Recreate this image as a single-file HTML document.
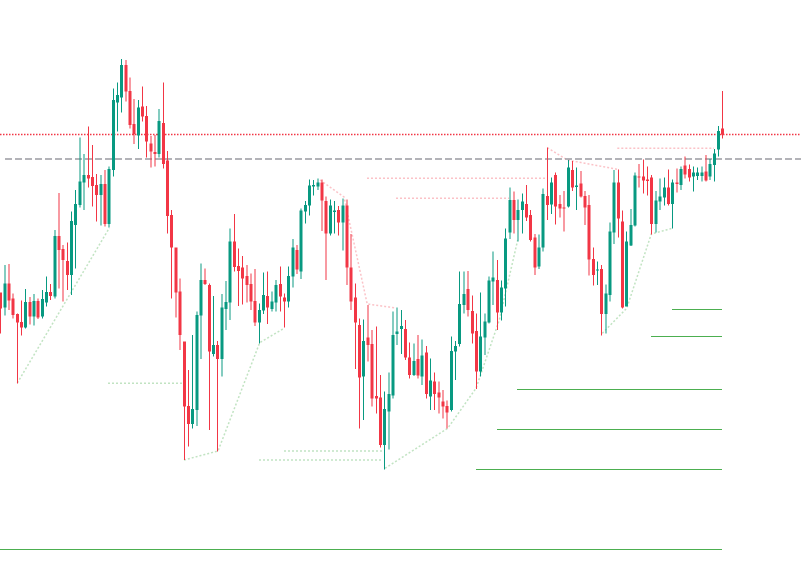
<!DOCTYPE html>
<html><head><meta charset="utf-8"><style>
html,body{margin:0;padding:0;background:#fff;width:801px;height:579px;overflow:hidden}
svg{display:block}
.g{fill:#089981}.r{fill:#f23645}
</style></head><body>
<svg width="801" height="579" viewBox="0 0 801 579" xmlns="http://www.w3.org/2000/svg">
<rect width="801" height="579" fill="#fff"/>
<g fill="none" stroke="#4caf50" stroke-opacity="0.35" stroke-width="1.5" stroke-dasharray="2 2">
<polyline points="17.3,383 109.3,228"/>
<line x1="108" y1="383.3" x2="182" y2="383.3"/>
<polyline points="184,460 218,451 259.7,342.7 284,328.3"/>
<line x1="284" y1="451" x2="383" y2="451"/>
<line x1="259" y1="460" x2="383" y2="460"/>
<polyline points="385,468.3 447.7,428.3 476,388.3 499.3,320 517.7,240"/>
<polyline points="602.3,333.3 626.7,308.3 651.3,234 672.3,228.3"/>
</g>
<g fill="none" stroke="#f23645" stroke-opacity="0.3" stroke-width="1.5" stroke-dasharray="2 2">
<polyline points="320,180 344,197 367.2,304 396,308"/>
<line x1="367" y1="178.3" x2="546" y2="178.3"/>
<line x1="396" y1="198.3" x2="509" y2="198.3"/>
<polyline points="547.3,147.7 567.3,160 617.3,169.3"/>
<line x1="617.3" y1="148.3" x2="714" y2="148.3"/>
</g>
<line x1="0" y1="134.5" x2="801" y2="134.5" stroke="#f23645" stroke-width="1.5" stroke-dasharray="1.5 1.5"/>
<line x1="5" y1="159" x2="801" y2="159" stroke="#9a9aa0" stroke-width="1.5" stroke-dasharray="7 3"/>
<g stroke="#4caf50" stroke-width="1">
<line x1="672" y1="309.5" x2="722" y2="309.5"/>
<line x1="651" y1="336.5" x2="722" y2="336.5"/>
<line x1="517" y1="389.5" x2="722" y2="389.5"/>
<line x1="497" y1="429.5" x2="722" y2="429.5"/>
<line x1="476" y1="469.5" x2="722" y2="469.5"/>
<line x1="0" y1="549.5" x2="722" y2="549.5"/>
</g>
<g shape-rendering="crispEdges">
<g transform="translate(0.6,55) scale(4.174,0.333333)">
<g transform="translate(-0.12,0)">
<rect class="r" x="0" y="712" width=".24" height="123"/>
<rect class="g" x="1" y="630" width=".24" height="152"/>
<rect class="r" x="2" y="627" width=".24" height="138"/>
<rect class="r" x="3" y="715" width=".24" height="75"/>
<rect class="r" x="4" y="775" width=".24" height="210"/>
<rect class="r" x="5" y="736" width=".24" height="106"/>
<rect class="g" x="6" y="702" width=".24" height="118"/>
<rect class="r" x="7" y="726" width=".24" height="82"/>
<rect class="g" x="8" y="717" width=".24" height="95"/>
<rect class="r" x="9" y="730" width=".24" height="62"/>
<rect class="g" x="10" y="705" width=".24" height="85"/>
<rect class="g" x="11" y="665" width=".24" height="90"/>
<rect class="r" x="12" y="687" width=".24" height="48"/>
<rect class="g" x="13" y="525" width=".24" height="205"/>
<rect class="r" x="14" y="414" width=".24" height="286"/>
<rect class="r" x="15" y="570" width=".24" height="170"/>
<rect class="r" x="16" y="563" width=".24" height="142"/>
<rect class="g" x="17" y="470" width=".24" height="250"/>
<rect class="g" x="18" y="405" width=".24" height="235"/>
<rect class="g" x="19" y="248" width=".24" height="210"/>
<rect class="g" x="20" y="297" width=".24" height="168"/>
<rect class="r" x="21" y="215" width=".24" height="183"/>
<rect class="r" x="22" y="270" width=".24" height="185"/>
<rect class="r" x="23" y="357" width=".24" height="143"/>
<rect class="g" x="24" y="360" width=".24" height="152"/>
<rect class="r" x="25" y="345" width=".24" height="170"/>
<rect class="g" x="26" y="335" width=".24" height="183"/>
<rect class="g" x="27" y="100" width=".24" height="265"/>
<rect class="g" x="28" y="83" width=".24" height="147"/>
<rect class="g" x="29" y="12" width=".24" height="160"/>
<rect class="r" x="30" y="15" width=".24" height="125"/>
<rect class="r" x="31" y="68" width=".24" height="152"/>
<rect class="r" x="32" y="132" width=".24" height="135"/>
<rect class="g" x="33" y="135" width=".24" height="147"/>
<rect class="r" x="34" y="95" width=".24" height="105"/>
<rect class="r" x="35" y="153" width=".24" height="155"/>
<rect class="r" x="36" y="243" width=".24" height="95"/>
<rect class="r" x="37" y="240" width=".24" height="95"/>
<rect class="g" x="38" y="162" width=".24" height="145"/>
<rect class="r" x="39" y="83" width=".24" height="257"/>
<rect class="r" x="40" y="288" width=".24" height="247"/>
<rect class="r" x="41" y="465" width=".24" height="265"/>
<rect class="r" x="42" y="578" width=".24" height="210"/>
</g>
<g transform="translate(-0.36,0)">
<rect class="r" x="0" y="712" width=".72" height="48"/>
<rect class="g" x="1" y="685" width=".72" height="72"/>
<rect class="r" x="2" y="685" width=".72" height="52"/>
<rect class="r" x="3" y="730" width=".72" height="50"/>
<rect class="r" x="4" y="777" width=".72" height="26"/>
<rect class="r" x="5" y="801" width=".72" height="17"/>
<rect class="g" x="6" y="741" width=".72" height="77"/>
<rect class="r" x="7" y="741" width=".72" height="44"/>
<rect class="g" x="8" y="738" width=".72" height="47"/>
<rect class="r" x="9" y="738" width=".72" height="50"/>
<rect class="g" x="10" y="732" width=".72" height="53"/>
<rect class="g" x="11" y="711" width=".72" height="32"/>
<rect class="r" x="12" y="711" width=".72" height="12"/>
<rect class="g" x="13" y="543" width=".72" height="182"/>
<rect class="r" x="14" y="543" width=".72" height="42"/>
<rect class="r" x="15" y="582" width=".72" height="33"/>
<rect class="r" x="16" y="618" width=".72" height="42"/>
<rect class="g" x="17" y="498" width=".72" height="162"/>
<rect class="g" x="18" y="447" width=".72" height="63"/>
<rect class="g" x="19" y="380" width=".72" height="70"/>
<rect class="g" x="20" y="360" width=".72" height="23"/>
<rect class="r" x="21" y="360" width=".72" height="10"/>
<rect class="r" x="22" y="366" width=".72" height="27"/>
<rect class="r" x="23" y="390" width=".72" height="30"/>
<rect class="g" x="24" y="387" width=".72" height="33"/>
<rect class="r" x="25" y="387" width=".72" height="120"/>
<rect class="g" x="26" y="342" width=".72" height="165"/>
<rect class="g" x="27" y="135" width=".72" height="210"/>
<rect class="g" x="28" y="120" width=".72" height="23"/>
<rect class="g" x="29" y="30" width=".72" height="98"/>
<rect class="r" x="30" y="30" width=".72" height="80"/>
<rect class="r" x="31" y="108" width=".72" height="102"/>
<rect class="r" x="32" y="207" width=".72" height="30"/>
<rect class="g" x="33" y="158" width=".72" height="84"/>
<rect class="r" x="34" y="155" width=".72" height="30"/>
<rect class="r" x="35" y="183" width=".72" height="77"/>
<rect class="r" x="36" y="265" width=".72" height="25"/>
<rect class="r" x="37" y="291" width=".72" height="6"/>
<rect class="g" x="38" y="198" width=".72" height="99"/>
<rect class="r" x="39" y="204" width=".72" height="123"/>
<rect class="r" x="40" y="316" width=".72" height="167"/>
<rect class="r" x="41" y="480" width=".72" height="98"/>
<rect class="r" x="42" y="578" width=".72" height="135"/>
</g>
</g>
<g transform="translate(0.6,170) scale(4.174,0.333333)">
<g transform="translate(-0.12,0)">
<rect class="r" x="43" y="325" width=".24" height="215"/>
<rect class="r" x="44" y="515" width=".24" height="355"/>
<rect class="r" x="45" y="600" width=".24" height="230"/>
<rect class="g" x="46" y="495" width=".24" height="280"/>
<rect class="g" x="47" y="425" width=".24" height="343"/>
<rect class="g" x="48" y="280" width=".24" height="287"/>
<rect class="r" x="49" y="295" width=".24" height="50"/>
<rect class="r" x="50" y="340" width=".24" height="440"/>
<rect class="g" x="51" y="378" width=".24" height="182"/>
<rect class="r" x="52" y="513" width=".24" height="332"/>
<rect class="g" x="53" y="372" width=".24" height="248"/>
<rect class="g" x="54" y="333" width=".24" height="147"/>
<rect class="g" x="55" y="175" width=".24" height="275"/>
<rect class="r" x="56" y="132" width=".24" height="173"/>
<rect class="r" x="57" y="235" width=".24" height="173"/>
<rect class="r" x="58" y="258" width=".24" height="145"/>
<rect class="r" x="59" y="285" width=".24" height="113"/>
<rect class="r" x="60" y="310" width=".24" height="110"/>
<rect class="r" x="61" y="297" width=".24" height="171"/>
<rect class="g" x="62" y="400" width=".24" height="120"/>
<rect class="g" x="63" y="308" width=".24" height="124"/>
<rect class="r" x="64" y="305" width=".24" height="157"/>
<rect class="g" x="65" y="365" width=".24" height="60"/>
<rect class="g" x="66" y="330" width=".24" height="95"/>
<rect class="r" x="67" y="290" width=".24" height="135"/>
<rect class="r" x="68" y="370" width=".24" height="103"/>
<rect class="g" x="69" y="290" width=".24" height="123"/>
<rect class="g" x="70" y="207" width=".24" height="146"/>
<rect class="r" x="71" y="225" width=".24" height="87"/>
<rect class="g" x="72" y="115" width=".24" height="212"/>
<rect class="g" x="73" y="93" width=".24" height="67"/>
<rect class="g" x="74" y="28" width=".24" height="109"/>
<rect class="g" x="75" y="30" width=".24" height="47"/>
<rect class="g" x="76" y="25" width=".24" height="35"/>
<rect class="r" x="77" y="28" width=".24" height="155"/>
<rect class="r" x="78" y="80" width=".24" height="250"/>
<rect class="g" x="79" y="88" width=".24" height="109"/>
<rect class="g" x="80" y="93" width=".24" height="97"/>
<rect class="r" x="81" y="108" width=".24" height="89"/>
<rect class="g" x="82" y="85" width=".24" height="157"/>
<rect class="r" x="83" y="88" width=".24" height="257"/>
<rect class="r" x="84" y="192" width=".24" height="228"/>
<rect class="r" x="85" y="340" width=".24" height="257"/>
</g>
<g transform="translate(-0.36,0)">
<rect class="r" x="43" y="365" width=".72" height="130"/>
<rect class="r" x="44" y="515" width=".72" height="195"/>
<rect class="r" x="45" y="708" width=".72" height="54"/>
<rect class="g" x="46" y="717" width=".72" height="45"/>
<rect class="g" x="47" y="435" width=".72" height="285"/>
<rect class="g" x="48" y="330" width=".72" height="107"/>
<rect class="r" x="49" y="330" width=".72" height="12"/>
<rect class="r" x="50" y="345" width=".72" height="200"/>
<rect class="g" x="51" y="525" width=".72" height="27"/>
<rect class="r" x="52" y="525" width=".72" height="42"/>
<rect class="g" x="53" y="413" width=".72" height="154"/>
<rect class="g" x="54" y="396" width=".72" height="21"/>
<rect class="g" x="55" y="215" width=".72" height="183"/>
<rect class="r" x="56" y="215" width=".72" height="76"/>
<rect class="r" x="57" y="288" width=".72" height="15"/>
<rect class="r" x="58" y="293" width=".72" height="33"/>
<rect class="r" x="59" y="318" width=".72" height="27"/>
<rect class="r" x="60" y="342" width=".72" height="53"/>
<rect class="r" x="61" y="393" width=".72" height="65"/>
<rect class="g" x="62" y="420" width=".72" height="38"/>
<rect class="g" x="63" y="375" width=".72" height="47"/>
<rect class="r" x="64" y="378" width=".72" height="35"/>
<rect class="g" x="65" y="395" width=".72" height="22"/>
<rect class="g" x="66" y="345" width=".72" height="53"/>
<rect class="r" x="67" y="342" width=".72" height="38"/>
<rect class="r" x="68" y="383" width=".72" height="12"/>
<rect class="g" x="69" y="318" width=".72" height="77"/>
<rect class="g" x="70" y="233" width=".72" height="87"/>
<rect class="r" x="71" y="240" width=".72" height="58"/>
<rect class="g" x="72" y="122" width=".72" height="183"/>
<rect class="g" x="73" y="105" width=".72" height="20"/>
<rect class="g" x="74" y="47" width=".72" height="60"/>
<rect class="g" x="75" y="45" width=".72" height="5"/>
<rect class="g" x="76" y="37" width=".72" height="13"/>
<rect class="r" x="77" y="38" width=".72" height="54"/>
<rect class="r" x="78" y="93" width=".72" height="97"/>
<rect class="g" x="79" y="107" width=".72" height="83"/>
<rect class="g" x="80" y="122" width=".72" height="4"/>
<rect class="r" x="81" y="120" width=".72" height="38"/>
<rect class="g" x="82" y="107" width=".72" height="51"/>
<rect class="r" x="83" y="107" width=".72" height="186"/>
<rect class="r" x="84" y="292" width=".72" height="103"/>
<rect class="r" x="85" y="383" width=".72" height="75"/>
</g>
</g>
<g transform="translate(0.6,150) scale(4.174,0.333333)">
<g transform="translate(-0.12,0)">
<rect class="r" x="86" y="505" width=".24" height="330"/>
<rect class="g" x="87" y="508" width=".24" height="302"/>
<rect class="r" x="88" y="465" width=".24" height="170"/>
<rect class="r" x="89" y="540" width=".24" height="230"/>
<rect class="r" x="90" y="530" width=".24" height="260"/>
<rect class="r" x="91" y="675" width=".24" height="217"/>
<rect class="g" x="92" y="725" width=".24" height="233"/>
<rect class="g" x="93" y="668" width=".24" height="230"/>
<rect class="g" x="94" y="485" width=".24" height="260"/>
<rect class="g" x="95" y="473" width=".24" height="112"/>
<rect class="g" x="96" y="480" width=".24" height="132"/>
<rect class="r" x="97" y="510" width=".24" height="120"/>
<rect class="r" x="98" y="578" width=".24" height="107"/>
<rect class="g" x="99" y="580" width=".24" height="98"/>
<rect class="r" x="100" y="555" width=".24" height="130"/>
<rect class="g" x="101" y="568" width=".24" height="137"/>
<rect class="r" x="102" y="588" width=".24" height="157"/>
<rect class="g" x="103" y="625" width=".24" height="155"/>
<rect class="r" x="104" y="668" width=".24" height="112"/>
<rect class="r" x="105" y="695" width=".24" height="95"/>
<rect class="r" x="106" y="720" width=".24" height="85"/>
<rect class="r" x="107" y="752" width=".24" height="83"/>
<rect class="g" x="108" y="560" width=".24" height="225"/>
<rect class="g" x="109" y="573" width=".24" height="117"/>
<rect class="g" x="110" y="365" width=".24" height="225"/>
<rect class="g" x="111" y="365" width=".24" height="125"/>
<rect class="r" x="112" y="363" width=".24" height="137"/>
<rect class="r" x="113" y="437" width=".24" height="143"/>
<rect class="r" x="114" y="490" width=".24" height="227"/>
<rect class="g" x="115" y="428" width=".24" height="252"/>
<rect class="g" x="116" y="490" width=".24" height="125"/>
<rect class="g" x="117" y="380" width=".24" height="140"/>
<rect class="g" x="118" y="305" width=".24" height="160"/>
<rect class="r" x="119" y="330" width=".24" height="210"/>
<rect class="g" x="120" y="392" width=".24" height="120"/>
<rect class="g" x="121" y="235" width=".24" height="235"/>
<rect class="g" x="122" y="113" width=".24" height="154"/>
<rect class="r" x="123" y="125" width=".24" height="125"/>
<rect class="g" x="124" y="148" width=".24" height="127"/>
<rect class="g" x="125" y="130" width=".24" height="120"/>
<rect class="r" x="126" y="105" width=".24" height="108"/>
<rect class="r" x="127" y="180" width=".24" height="95"/>
<rect class="r" x="128" y="252" width=".24" height="123"/>
</g>
<g transform="translate(-0.36,0)">
<rect class="r" x="86" y="525" width=".72" height="158"/>
<rect class="g" x="87" y="573" width=".72" height="107"/>
<rect class="r" x="88" y="563" width=".72" height="22"/>
<rect class="r" x="89" y="582" width=".72" height="163"/>
<rect class="r" x="90" y="738" width=".72" height="8"/>
<rect class="r" x="91" y="743" width=".72" height="142"/>
<rect class="g" x="92" y="777" width=".72" height="108"/>
<rect class="g" x="93" y="732" width=".72" height="53"/>
<rect class="g" x="94" y="555" width=".72" height="182"/>
<rect class="g" x="95" y="545" width=".72" height="7"/>
<rect class="g" x="96" y="528" width=".72" height="9"/>
<rect class="r" x="97" y="537" width=".72" height="86"/>
<rect class="r" x="98" y="622" width=".72" height="53"/>
<rect class="g" x="99" y="633" width=".72" height="42"/>
<rect class="r" x="100" y="627" width=".72" height="50"/>
<rect class="g" x="101" y="617" width=".72" height="63"/>
<rect class="r" x="102" y="608" width=".72" height="124"/>
<rect class="g" x="103" y="692" width=".72" height="48"/>
<rect class="r" x="104" y="695" width=".72" height="37"/>
<rect class="r" x="105" y="728" width=".72" height="15"/>
<rect class="r" x="106" y="755" width=".72" height="15"/>
<rect class="r" x="107" y="768" width=".72" height="20"/>
<rect class="g" x="108" y="603" width=".72" height="177"/>
<rect class="g" x="109" y="588" width=".72" height="17"/>
<rect class="g" x="110" y="462" width=".72" height="120"/>
<rect class="g" x="111" y="432" width=".72" height="33"/>
<rect class="r" x="112" y="417" width=".72" height="63"/>
<rect class="r" x="113" y="483" width=".72" height="67"/>
<rect class="r" x="114" y="543" width=".72" height="122"/>
<rect class="g" x="115" y="560" width=".72" height="105"/>
<rect class="g" x="116" y="515" width=".72" height="47"/>
<rect class="g" x="117" y="392" width=".72" height="126"/>
<rect class="g" x="118" y="383" width=".72" height="12"/>
<rect class="r" x="119" y="390" width=".72" height="98"/>
<rect class="g" x="120" y="413" width=".72" height="75"/>
<rect class="g" x="121" y="265" width=".72" height="150"/>
<rect class="g" x="122" y="150" width=".72" height="98"/>
<rect class="r" x="123" y="150" width=".72" height="60"/>
<rect class="g" x="124" y="180" width=".72" height="30"/>
<rect class="g" x="125" y="155" width=".72" height="25"/>
<rect class="r" x="126" y="162" width=".72" height="41"/>
<rect class="r" x="127" y="195" width=".72" height="75"/>
<rect class="r" x="128" y="262" width=".72" height="91"/>
</g>
</g>
<g transform="translate(0.6,85) scale(4.174,0.333333)">
<g transform="translate(-0.12,0)">
<rect class="g" x="129" y="448" width=".24" height="104"/>
<rect class="g" x="130" y="310" width=".24" height="190"/>
<rect class="r" x="131" y="188" width=".24" height="217"/>
<rect class="g" x="132" y="278" width=".24" height="109"/>
<rect class="r" x="133" y="262" width=".24" height="156"/>
<rect class="r" x="134" y="330" width=".24" height="67"/>
<rect class="r" x="135" y="318" width=".24" height="122"/>
<rect class="g" x="136" y="225" width=".24" height="142"/>
<rect class="r" x="137" y="228" width=".24" height="90"/>
<rect class="g" x="138" y="247" width=".24" height="128"/>
<rect class="r" x="139" y="258" width=".24" height="79"/>
<rect class="r" x="140" y="318" width=".24" height="102"/>
<rect class="r" x="141" y="330" width=".24" height="242"/>
<rect class="r" x="142" y="487" width=".24" height="115"/>
<rect class="g" x="143" y="530" width=".24" height="70"/>
<rect class="r" x="144" y="540" width=".24" height="212"/>
<rect class="g" x="145" y="598" width=".24" height="147"/>
<rect class="g" x="146" y="412" width=".24" height="238"/>
<rect class="g" x="147" y="255" width=".24" height="222"/>
<rect class="r" x="148" y="253" width=".24" height="204"/>
<rect class="r" x="149" y="377" width=".24" height="293"/>
<rect class="g" x="150" y="440" width=".24" height="225"/>
<rect class="g" x="151" y="372" width=".24" height="111"/>
<rect class="g" x="152" y="262" width=".24" height="163"/>
<rect class="r" x="153" y="237" width=".24" height="70"/>
<rect class="r" x="154" y="223" width=".24" height="102"/>
<rect class="r" x="155" y="245" width=".24" height="87"/>
<rect class="r" x="156" y="270" width=".24" height="178"/>
<rect class="g" x="157" y="318" width=".24" height="124"/>
<rect class="g" x="158" y="280" width=".24" height="95"/>
<rect class="g" x="159" y="278" width=".24" height="84"/>
<rect class="r" x="160" y="253" width=".24" height="109"/>
<rect class="g" x="161" y="283" width=".24" height="147"/>
<rect class="r" x="162" y="250" width=".24" height="72"/>
<rect class="g" x="163" y="245" width=".24" height="70"/>
<rect class="r" x="164" y="215" width=".24" height="65"/>
<rect class="r" x="165" y="238" width=".24" height="52"/>
<rect class="g" x="166" y="245" width=".24" height="75"/>
<rect class="g" x="167" y="247" width=".24" height="38"/>
<rect class="g" x="168" y="245" width=".24" height="45"/>
<rect class="r" x="169" y="210" width=".24" height="80"/>
<rect class="g" x="170" y="222" width=".24" height="63"/>
<rect class="g" x="171" y="192" width=".24" height="98"/>
<rect class="g" x="172" y="123" width=".24" height="92"/>
<rect class="r" x="173" y="18" width=".24" height="142"/>
</g>
<g transform="translate(-0.36,0)">
<rect class="g" x="129" y="487" width=".72" height="58"/>
<rect class="g" x="130" y="327" width=".72" height="161"/>
<rect class="r" x="131" y="333" width=".72" height="27"/>
<rect class="g" x="132" y="292" width=".72" height="66"/>
<rect class="r" x="133" y="270" width=".72" height="95"/>
<rect class="r" x="134" y="357" width=".72" height="13"/>
<rect class="r" x="135" y="367" width=".72" height="4"/>
<rect class="g" x="136" y="247" width=".72" height="118"/>
<rect class="r" x="137" y="255" width=".72" height="52"/>
<rect class="g" x="138" y="302" width=".72" height="4"/>
<rect class="r" x="139" y="295" width=".72" height="40"/>
<rect class="r" x="140" y="333" width=".72" height="35"/>
<rect class="r" x="141" y="360" width=".72" height="163"/>
<rect class="r" x="142" y="522" width=".72" height="48"/>
<rect class="g" x="143" y="553" width=".72" height="4"/>
<rect class="r" x="144" y="552" width=".72" height="135"/>
<rect class="g" x="145" y="625" width=".72" height="62"/>
<rect class="g" x="146" y="440" width=".72" height="190"/>
<rect class="g" x="147" y="293" width=".72" height="150"/>
<rect class="r" x="148" y="293" width=".72" height="107"/>
<rect class="r" x="149" y="410" width=".72" height="257"/>
<rect class="g" x="150" y="470" width=".72" height="195"/>
<rect class="g" x="151" y="420" width=".72" height="62"/>
<rect class="g" x="152" y="272" width=".72" height="150"/>
<rect class="r" x="153" y="274" width=".72" height="4"/>
<rect class="r" x="154" y="275" width=".72" height="12"/>
<rect class="r" x="155" y="284" width=".72" height="4"/>
<rect class="r" x="156" y="278" width=".72" height="139"/>
<rect class="g" x="157" y="347" width=".72" height="70"/>
<rect class="g" x="158" y="335" width=".72" height="15"/>
<rect class="g" x="159" y="307" width=".72" height="31"/>
<rect class="r" x="160" y="308" width=".72" height="49"/>
<rect class="g" x="161" y="293" width=".72" height="64"/>
<rect class="r" x="162" y="293" width=".72" height="4"/>
<rect class="g" x="163" y="252" width=".72" height="48"/>
<rect class="r" x="164" y="242" width=".72" height="26"/>
<rect class="r" x="165" y="252" width=".72" height="25"/>
<rect class="g" x="166" y="263" width=".72" height="12"/>
<rect class="g" x="167" y="263" width=".72" height="10"/>
<rect class="g" x="168" y="263" width=".72" height="10"/>
<rect class="r" x="169" y="260" width=".72" height="27"/>
<rect class="g" x="170" y="237" width=".72" height="38"/>
<rect class="g" x="171" y="205" width=".72" height="35"/>
<rect class="g" x="172" y="138" width=".72" height="55"/>
<rect class="r" x="173" y="130" width=".72" height="18"/>
</g>
</g>
</g>
</svg>
</body></html>
